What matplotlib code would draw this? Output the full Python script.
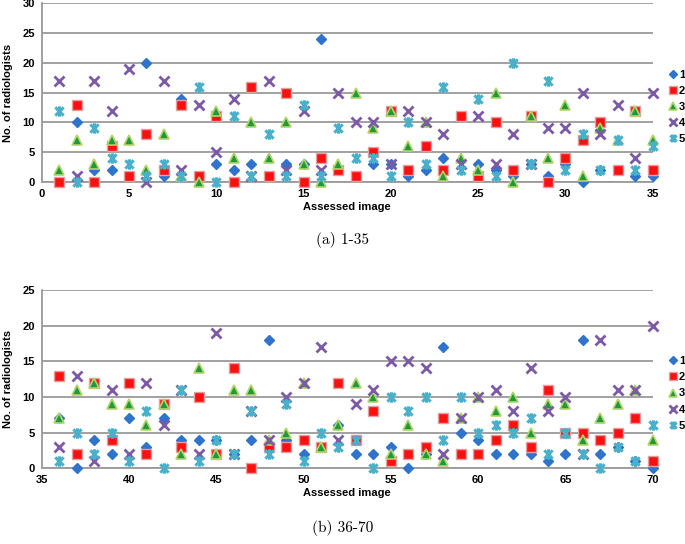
import matplotlib
matplotlib.use("Agg")
import matplotlib.pyplot as plt
from matplotlib.path import Path
import numpy as np

# images 1-35
img_a = list(range(1, 36))
r1_a = [0, 10, 2, 2, 1, 20, 1, 14, 1, 3, 2, 3, 1, 3, 3, 24, 2, 1, 3, 3, 1, 2, 4, 11, 3, 2, 1, 3, 1, 3, 0, 2, 2, 1, 1]
r2_a = [0, 13, 0, 6, 1, 8, 2, 13, 1, 11, 0, 16, 1, 15, 0, 4, 2, 1, 5, 12, 2, 6, 2, 11, 1, 10, 2, 11, 0, 4, 7, 10, 2, 12, 2]
r3_a = [2, 7, 3, 7, 7, 2, 8, 1, 0, 12, 4, 10, 4, 10, 3, 0, 3, 15, 9, 12, 6, 10, 1, 4, 2, 15, 0, 11, 4, 13, 1, 9, 7, 12, 7]
r4_a = [17, 1, 17, 12, 19, 0, 17, 2, 13, 5, 14, 1, 17, 2, 12, 2, 15, 10, 10, 3, 12, 10, 8, 3, 11, 3, 8, 3, 9, 9, 15, 8, 13, 4, 15]
r5_a = [12, 0, 9, 4, 3, 1, 3, 1, 16, 0, 11, 1, 8, 1, 13, 1, 9, 4, 4, 1, 10, 3, 16, 2, 14, 1, 20, 3, 17, 2, 8, 2, 7, 2, 6]

# images 36-70
img_b = list(range(36, 71))
r1_b = [7, 0, 4, 2, 7, 3, 7, 4, 4, 4, 2, 4, 18, 4, 2, 3, 6, 2, 2, 3, 0, 2, 17, 5, 4, 2, 2, 2, 1, 2, 18, 2, 3, 1, 0]
r2_b = [13, 2, 12, 4, 12, 2, 9, 3, 10, 2, 14, 0, 3, 3, 4, 3, 12, 4, 8, 1, 2, 3, 7, 2, 2, 4, 6, 3, 11, 5, 5, 4, 5, 7, 1]
r3_b = [7, 11, 12, 9, 9, 6, 9, 2, 14, 2, 11, 11, 4, 5, 12, 3, 6, 12, 10, 2, 6, 2, 1, 7, 10, 8, 10, 5, 9, 9, 4, 7, 9, 11, 4]
r4_b = [3, 13, 1, 11, 2, 12, 6, 11, 2, 19, 2, 8, 4, 10, 12, 17, 4, 9, 11, 15, 15, 14, 2, 7, 10, 11, 8, 14, 8, 10, 2, 18, 11, 11, 20]
r5_b = [1, 5, 2, 5, 1, 8, 0, 11, 1, 4, 2, 8, 2, 9, 1, 5, 3, 4, 0, 10, 8, 10, 4, 10, 5, 6, 5, 7, 2, 5, 2, 0, 3, 1, 6]

labels = ["1", "2", "3", "4", "5"]

# asterisk-like marker (x with vertical bar)
star = Path([(-1, -1), (1, 1), (-1, 1), (1, -1), (0, -1.25), (0, 1.25)],
            [Path.MOVETO, Path.LINETO, Path.MOVETO, Path.LINETO, Path.MOVETO, Path.LINETO])

styles = [
    dict(marker="D", color="#2f74cc", markeredgecolor="#2f74cc", markersize=5.6),
    dict(marker="s", color="#ff1010", markeredgecolor="#e0a0a0", markersize=7.0, markeredgewidth=1.0),
    dict(marker="^", color="#1d9a3c", markeredgecolor="#b2d46a", markersize=7.5, markeredgewidth=1.2),
    dict(marker="x", color="#7c5aa8", markeredgecolor="#7c5aa8", markersize=7.3, markeredgewidth=2.0),
    dict(marker=star, color="#49b0cc", markeredgecolor="#49b0cc", markersize=7.5, markeredgewidth=2.2),
]

plt.rcParams["font.family"] = ["Liberation Sans", "DejaVu Sans"]
plt.rcParams["font.weight"] = "bold"

fig = plt.figure(figsize=(6.85, 5.44), dpi=100)
ax_a = fig.add_axes([0.0609, 0.6654, 0.8920, 0.3285])
ax_b = fig.add_axes([0.0609, 0.1392, 0.8920, 0.3277])

panels = [
    (ax_a, img_a, [r1_a, r2_a, r3_a, r4_a, r5_a], (0, 35), 30, "(a) 1-35", 0.559),
    (ax_b, img_b, [r1_b, r2_b, r3_b, r4_b, r5_b], (35, 70), 25, "(b) 36-70", 0.03),
]

for ax, x, series, xlim, ymax, caption, cap_y in panels:
    for vals, lab, st in zip(series, labels, styles):
        ax.plot(x, vals, linestyle="none", label=lab, clip_on=False, zorder=3, **st)
    ax.set_xlim(*xlim)
    ax.set_ylim(0, ymax)
    ax.set_xticks(np.arange(xlim[0], xlim[1] + 1, 5))
    ax.set_yticks(np.arange(0, ymax + 1, 5))
    ax.yaxis.grid(True, color="#9a9a9a", linewidth=1.3)
    ax.set_axisbelow(True)
    for side in ["top", "right"]:
        ax.spines[side].set_visible(False)
    for side in ["left", "bottom"]:
        ax.spines[side].set_color("#9a9a9a")
        ax.spines[side].set_linewidth(1.3)
    ax.tick_params(length=0, labelsize=8, pad=5)
    for t in ax.get_xticklabels() + ax.get_yticklabels():
        t.set_fontweight("bold")
    ax.set_xlabel("Assessed image", fontsize=8, fontweight="bold", labelpad=2)
    ax.set_ylabel("No. of radiologists", fontsize=8, fontweight="bold", labelpad=7)
    leg = ax.legend(loc="center left", bbox_to_anchor=(1.012, 0.42), frameon=False,
                    fontsize=8, handlelength=0.9, handletextpad=0.1, labelspacing=0.55,
                    markerscale=0.75, borderaxespad=0.3)
    for t in leg.get_texts():
        t.set_fontweight("bold")
    fig.text(0.5, cap_y, caption, ha="center", va="center", fontsize=11,
             family="cmr10", fontweight="normal")

fig.savefig("out.png", dpi=100)
